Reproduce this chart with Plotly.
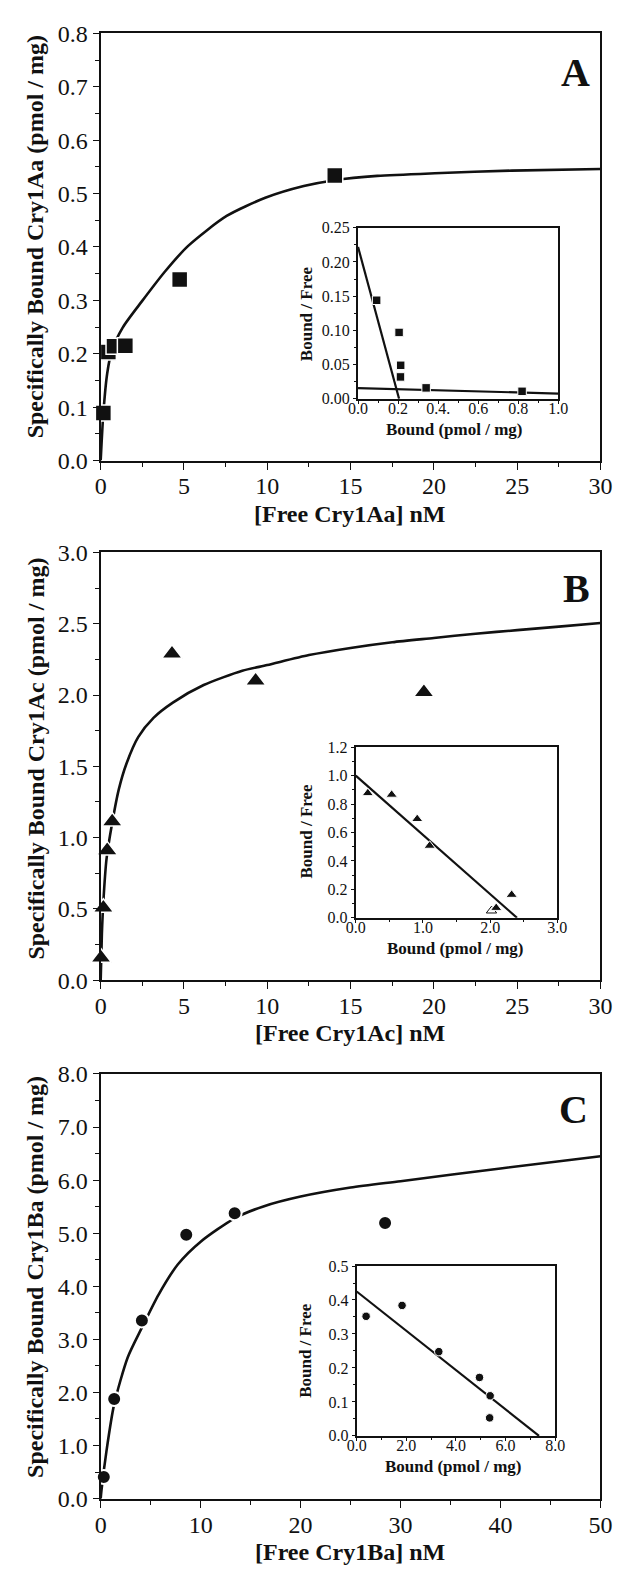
import plotly.graph_objects as go

W, H = 626, 1579

# ---------------- Panel A (Cry1Aa) ----------------
a_free = [0.16, 0.46, 0.80, 1.48, 4.74, 14.05]
a_bound = [0.089, 0.203, 0.214, 0.215, 0.339, 0.534]
a_fit_x = [0.0, 0.16, 0.39, 0.67, 1.32, 2.47, 3.86, 5.25, 7.56, 9.88, 12.19, 14.04, 16.6, 20.05, 24.68, 30.0]
a_fit_y = [0.0, 0.089, 0.163, 0.206, 0.249, 0.298, 0.354, 0.402, 0.458, 0.492, 0.514, 0.525, 0.533, 0.538, 0.543, 0.546]
a_sc_bound = [0.093, 0.205, 0.213, 0.212, 0.34, 0.819]
a_sc_ratio = [0.144, 0.097, 0.049, 0.032, 0.016, 0.011]
a_sc_hi_x = [0.0, 0.205]
a_sc_hi_y = [0.222, 0.0]
a_sc_lo_x = [0.0, 1.0]
a_sc_lo_y = [0.0158, 0.0077]
a_inset_xticks = [0.0, 0.2, 0.4, 0.6, 0.8, 1.0]
a_inset_xlabels = ["0.0", "0.2", "0.4.", "0.6", "0.8", "1.0"]

# ---------------- Panel B (Cry1Ac) ----------------
b_free = [0.02, 0.16, 0.39, 0.69, 4.28, 9.3, 19.4]
b_bound = [0.157, 0.507, 0.91, 1.113, 2.29, 2.10, 2.02]
b_fit_x = [0.0, 0.07, 0.16, 0.35, 0.67, 1.09, 1.55, 2.25, 3.17, 4.33, 6.18, 8.5, 10.0, 12.5,
           15.0, 17.5, 20.0, 22.5, 25.0, 27.5, 30.0]
b_fit_y = [0.0, 0.32, 0.55, 0.85, 1.09, 1.34, 1.52, 1.705, 1.84, 1.947, 2.07, 2.17, 2.21, 2.28,
           2.33, 2.37, 2.40, 2.43, 2.455, 2.48, 2.505]
b_sc_bound = [0.18, 0.535, 0.915, 1.10, 2.09, 2.32]
b_sc_ratio = [0.877, 0.866, 0.695, 0.507, 0.07, 0.162]
b_sc_open_bound = [2.02]
b_sc_open_ratio = [0.05]
b_sc_line_x = [0.0, 2.4]
b_sc_line_y = [1.0, 0.0]

# ---------------- Panel C (Cry1Ba) ----------------
c_free = [0.31, 1.35, 4.12, 8.56, 13.4, 28.45]
c_bound = [0.406, 1.875, 3.356, 4.97, 5.375, 5.19]
c_fit_x = [0.0, 0.08, 0.58, 1.35, 2.7, 4.12, 5.78, 7.71, 10.0, 13.4, 16.2, 20.0, 25.0, 30.0, 40.0, 50.0]
c_fit_y = [0.0, 0.16, 0.9, 1.78, 2.66, 3.22, 3.84, 4.41, 4.84, 5.28, 5.5, 5.69, 5.86, 5.98, 6.22, 6.45]
c_sc_bound = [0.38, 1.83, 3.31, 4.95, 5.38, 5.36]
c_sc_ratio = [0.352, 0.384, 0.248, 0.172, 0.118, 0.053]
c_sc_line_x = [0.0, 7.35]
c_sc_line_y = [0.425, 0.0]

SERIF = "Liberation Serif"
INK = "#111111"

fig = go.Figure()


def line(x, y, xa, ya, w=2.6, shape="spline"):
    fig.add_trace(go.Scatter(x=x, y=y, xaxis=xa, yaxis=ya, mode="lines",
                             line=dict(color=INK, width=w, shape=shape, smoothing=0.7),
                             showlegend=False, hoverinfo="skip"))


def pts(x, y, xa, ya, sym, size, outline=1.5, col=INK):
    fig.add_trace(go.Scatter(x=x, y=y, xaxis=xa, yaxis=ya, mode="markers",
                             marker=dict(symbol=sym, size=size, color=col,
                                         line=dict(color="white", width=outline)),
                             cliponaxis=False, showlegend=False, hoverinfo="skip"))


# main A -> x/y ; inset A -> x2/y2 ; main B -> x3/y3 ; inset B -> x4/y4 ; main C -> x5/y5 ; inset C -> x6/y6
line(a_fit_x, a_fit_y, "x", "y")
pts(a_free, a_bound, "x", "y", "square", 16, 1.5)
line(a_sc_hi_x, a_sc_hi_y, "x2", "y2", 2.2, "linear")
line(a_sc_lo_x, a_sc_lo_y, "x2", "y2", 2.2, "linear")
pts(a_sc_bound, a_sc_ratio, "x2", "y2", "square", 8.5, 1)

line(b_fit_x, b_fit_y, "x3", "y3")
pts(b_free, b_bound, "x3", "y3", "triangle-up", 18, 1.5)
line(b_sc_line_x, b_sc_line_y, "x4", "y4", 2.2, "linear")
fig.add_trace(go.Scatter(x=b_sc_open_bound, y=b_sc_open_ratio, xaxis="x4", yaxis="y4", mode="markers",
                         marker=dict(symbol="triangle-up-open", size=9, color=INK, line=dict(width=1)),
                         cliponaxis=False, showlegend=False, hoverinfo="skip"))
pts(b_sc_bound, b_sc_ratio, "x4", "y4", "triangle-up", 10, 1)

line(c_fit_x, c_fit_y, "x5", "y5")
pts(c_free, c_bound, "x5", "y5", "circle", 14, 2)
line(c_sc_line_x, c_sc_line_y, "x6", "y6", 2.2, "linear")
pts(c_sc_bound, c_sc_ratio, "x6", "y6", "circle", 8.5, 1)


def dx(px0, px1):
    return [px0 / W, px1 / W]


def dy(top, bottom):
    return [1 - bottom / H, 1 - top / H]


def axis(domain, rng, dtick, minor, fmt, anchor, size, lw, ticklen, **kw):
    d = dict(domain=domain, range=rng, dtick=dtick, tick0=0, tickformat=fmt, anchor=anchor,
             showline=True, linecolor=INK, linewidth=lw, mirror=True,
             ticks="outside", ticklen=ticklen, tickwidth=1.3, tickcolor=INK,
             minor=dict(dtick=minor, ticks="outside", ticklen=max(2, ticklen // 2 + 1), tickcolor=INK, tickwidth=1),
             showgrid=False, zeroline=False,
             tickfont=dict(family=SERIF, size=size, color=INK))
    d.update(kw)
    return d


MAIN_X = dx(94, 612)
INSET_A_X = dx(360.7, 568.3)
INSET_B_X = dx(358.3, 567.3)
INSET_C_X = dx(359.3, 565.0)

layout = dict(
    width=W, height=H, margin=dict(l=0, r=0, t=0, b=0),
    paper_bgcolor="white", plot_bgcolor="white", showlegend=False,
    xaxis=axis(MAIN_X, [0, 30], 5, 2.5, "d", "y", 24, 2.2, 7, ticklabelstandoff=-4),
    yaxis=axis(dy(20.7, 455), [0, 0.8], 0.1, 0.05, ".1f", "x", 24, 2.2, 6),
    xaxis2=axis(INSET_A_X, [0, 1], 0.2, 0.1, ".1f", "y2", 16, 2, 3, ticklabelstandoff=-9,
                tickmode="array", tickvals=a_inset_xticks, ticktext=a_inset_xlabels),
    yaxis2=axis(dy(218.3, 392.3), [0, 0.25], 0.05, 0.025, ".2f", "x2", 16, 2, 3),
    xaxis3=axis(MAIN_X, [0, 30], 5, 2.5, "d", "y3", 24, 2.2, 7, ticklabelstandoff=-4),
    yaxis3=axis(dy(548.5, 983.3), [0, 3], 0.5, 0.25, ".1f", "x3", 24, 2.2, 6),
    xaxis4=axis(INSET_B_X, [0, 3], 1, 0.5, ".1f", "y4", 16, 2, 3, ticklabelstandoff=-9),
    yaxis4=axis(dy(746.5, 920), [0, 1.2], 0.2, 0.1, ".1f", "x4", 16, 2, 3),
    xaxis5=axis(MAIN_X, [0, 50], 10, 5, "d", "y5", 24, 2.2, 7, ticklabelstandoff=-4),
    yaxis5=axis(dy(1078.7, 1510.5), [0, 8], 1, 0.5, ".1f", "x5", 24, 2.2, 6),
    xaxis6=axis(INSET_C_X, [0, 8], 2, 1, ".1f", "y6", 16, 2, 3, ticklabelstandoff=-9),
    yaxis6=axis(dy(1274, 1446.7), [0, 0.5], 0.1, 0.05, ".1f", "x6", 16, 2, 3),
)
fig.update_layout(**layout)


def note(text, px, py, size, angle=0, bold=True):
    fig.add_annotation(text=f"<b>{text}</b>" if bold else text, xref="paper", yref="paper",
                       x=px / W, y=1 - py / H, xanchor="center", yanchor="middle",
                       textangle=angle, showarrow=False,
                       font=dict(family=SERIF, size=size, color=INK))


# main axis titles
note("Specifically Bound Cry1Aa (pmol / mg)", 26, 228, 24, -90)
note("[Free Cry1Aa] nM", 352, 509, 24)
note("Specifically Bound Cry1Ac (pmol / mg)", 26, 758, 24, -90)
note("[Free Cry1Ac] nM", 352, 1037, 24)
note("Specifically Bound Cry1Ba (pmol / mg)", 26, 1285, 24, -90)
note("[Free Cry1Ba] nM", 352, 1565, 24)

# panel letters
note("A", 586, 61, 40)
note("B", 587, 585, 40)
note("C", 584, 1115, 40)

# inset titles
note("Bound / Free", 308, 306, 17, -90)
note("Bound (pmol / mg)", 461, 423, 17)
note("Bound / Free", 307, 832, 17, -90)
note("Bound (pmol / mg)", 462, 951, 17)
note("Bound / Free", 306, 1360, 17, -90)
note("Bound (pmol / mg)", 460, 1478, 17)

fig.write_html("out.html", config={"displayModeBar": False},
               post_script="document.body.style.margin='0';document.body.style.overflow='hidden';")
